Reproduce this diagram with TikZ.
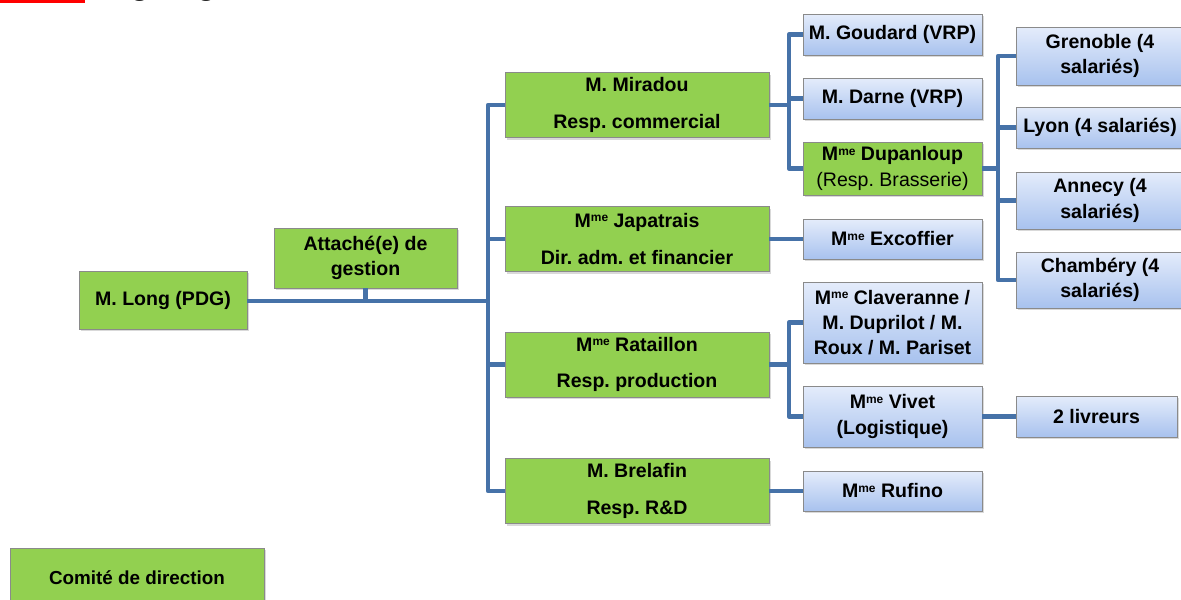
\documentclass[tikz,border=0pt]{standalone}
\usepackage{fontspec}
\setmainfont{Liberation Sans}
\usetikzlibrary{shadows}
\frenchspacing

\definecolor{chiefgreen}{HTML}{92D050}
\definecolor{stafftop}{HTML}{E4ECFB}
\definecolor{staffbot}{HTML}{A8C2EE}
\definecolor{linkblue}{HTML}{4672A8}
\definecolor{boxgray}{HTML}{8A8A8A}

\newcommand\Mme{M\raisebox{0.3em}{\fontsize{8.5pt}{8.5pt}\selectfont me}}

\begin{document}
\begin{tikzpicture}[x=0.025cm, y=-0.025cm,
    box/.style={draw=boxgray, line width=0.6pt, align=center, inner sep=0pt,
        font=\bfseries\fontsize{13.9pt}{18pt}\selectfont,
        drop shadow={shadow xshift=1.5pt, shadow yshift=-1.5pt, opacity=0.3}},
    boxsize/.style 2 args={minimum width=#1*0.025cm, minimum height=#2*0.025cm},
    chief/.style={box, fill=chiefgreen},
    staff/.style={box, top color=stafftop, bottom color=staffbot},
    link/.style={draw=linkblue, line width=3.4pt, line join=round}]
    \useasboundingbox (0,0) rectangle (1181,599);

    % title strip, cut by the page edge
    \fill[red] (0,-10) rectangle (85,3);
    \node[anchor=base west, inner sep=0pt, font=\bfseries\fontsize{23pt}{26pt}\selectfont] (title) at (92,-5.5) {Organigramme};

    % direction
    \node[chief, boxsize={168}{58}] (long) at (163,300) {M. Long (PDG)};
    \node[chief, boxsize={183}{60}] (attache) at (365.5,258) {Attach\'e(e) de\\gestion};
    \node[chief, boxsize={264}{65}] (miradou) at (637,105) {M. Miradou\\[8pt]Resp. commercial};
    \node[chief, boxsize={264}{65}] (japatrais) at (637,239) {\Mme{} Japatrais\\[8pt]Dir. adm. et financier};
    \node[chief, boxsize={264}{65}] (rataillon) at (637,364.5) {\Mme{} Rataillon\\[8pt]Resp. production};
    \node[chief, boxsize={264}{65}] (brelafin) at (637,491) {M. Brelafin\\[8pt]Resp. R\&D};

    % services
    \node[staff, boxsize={179}{41}] (goudard) at (892.5,34.5) {M. Goudard (VRP)};
    \node[staff, boxsize={179}{41}] (darne) at (892.5,98.5) {M. Darne (VRP)};
    \node[chief, boxsize={179}{53}] (dupanloup) at (892.5,168.5) {\Mme{} Dupanloup\\{\mdseries (Resp. Brasserie)}};
    \node[staff, boxsize={179}{40}] (excoffier) at (892.5,239) {\Mme{} Excoffier};
    \node[staff, boxsize={179}{81}] (claveranne) at (892.5,322.5) {\Mme{} Claveranne /\\M. Duprilot / M.\\Roux / M. Pariset};
    \node[staff, boxsize={179}{61}] (vivet) at (892.5,416.5) {\Mme{} Vivet\\(Logistique)};
    \node[staff, boxsize={179}{40}] (rufino) at (892.5,491) {\Mme{} Rufino};

    % brasserie and delivery
    \node[staff, boxsize={168}{58}] (grenoble) at (1100,56) {Grenoble (4\\salari\'es)};
    \node[staff, boxsize={168}{41}] (lyon) at (1100,127.5) {Lyon (4 salari\'es)};
    \node[staff, boxsize={168}{57}] (annecy) at (1100,200.5) {Annecy (4\\salari\'es)};
    \node[staff, boxsize={168}{56}] (chambery) at (1100,280) {Chamb\'ery (4\\salari\'es)};
    \node[staff, boxsize={161}{41}] (livreurs) at (1096.5,416.5) {2 livreurs};

    % legend
    \node[chief, boxsize={254}{60}, font=\bfseries\fontsize{13.4pt}{16pt}\selectfont] (comite) at (137,578) {Comit\'e de direction};

    % connectors
    \coordinate (bus1) at (488,301);
    \coordinate (bus2) at (789,105);
    \coordinate (bus3) at (789,364.5);
    \coordinate (bus4) at (998,168.5);

    \draw[link] (long.east |- bus1) -- (bus1);
    \draw[link] (attache.south) -- (attache.south |- bus1);
    \draw[link] (miradou.west) -- (miradou.west -| bus1) |- (brelafin.west);
    \draw[link] (japatrais.west) -- (japatrais.west -| bus1);
    \draw[link] (rataillon.west) -- (rataillon.west -| bus1);

    \draw[link] (miradou.east) -- (bus2);
    \draw[link] (goudard.west) -- (goudard.west -| bus2) |- (dupanloup.west);
    \draw[link] (darne.west) -- (darne.west -| bus2);

    \draw[link] (japatrais.east) -- (excoffier.west);
    \draw[link] (brelafin.east) -- (rufino.west);

    \draw[link] (rataillon.east) -- (bus3);
    \draw[link] (claveranne.west) -- (claveranne.west -| bus3) |- (vivet.west);
    \draw[link] (vivet.east) -- (livreurs.west);

    \draw[link] (dupanloup.east) -- (bus4);
    \draw[link] (grenoble.west) -- (grenoble.west -| bus4) |- (chambery.west);
    \draw[link] (lyon.west) -- (lyon.west -| bus4);
    \draw[link] (annecy.west) -- (annecy.west -| bus4);
\end{tikzpicture}
\end{document}
